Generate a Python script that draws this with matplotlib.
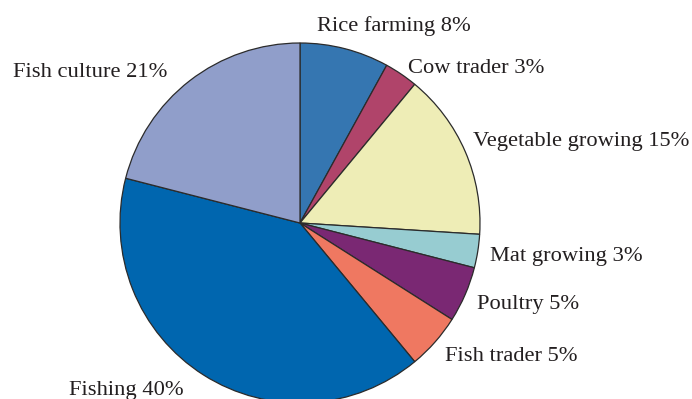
import matplotlib
matplotlib.use("Agg")
import matplotlib.pyplot as plt

# Share of households by livelihood activity (percent)
activities = ["Rice farming", "Cow trader", "Vegetable growing", "Mat growing",
              "Poultry", "Fish trader", "Fishing", "Fish culture"]
shares = [8, 3, 15, 3, 5, 5, 40, 21]
colors = ["#3576B1", "#B0446A", "#EEEDB6", "#97CCD1",
          "#7A2873", "#EF7861", "#0066AF", "#909ECA"]

W, H = 692, 399
fig = plt.figure(figsize=(W / 100, H / 100), dpi=100)
ax = fig.add_axes([0, 0, 1, 1])

ax.pie(shares, colors=colors, startangle=90, counterclock=False,
       radius=180, center=(300, H - 223),
       wedgeprops=dict(edgecolor="#2b2b2b", linewidth=0.9))

ax.set_xlim(0, W)
ax.set_ylim(0, H)
ax.set_aspect("equal")
ax.axis("off")

# label anchor: left edge x and baseline y (measured from the top)
label_pos = {
    "Rice farming": (317, 31),
    "Cow trader": (408, 73),
    "Vegetable growing": (473, 146),
    "Mat growing": (490, 261),
    "Poultry": (477, 309),
    "Fish trader": (445, 361),
    "Fishing": (69, 395),
    "Fish culture": (13, 77),
}
for name, val in zip(activities, shares):
    x, yb = label_pos[name]
    ax.text(x, H - yb, f"{name} {val}%", ha="left", va="baseline",
            fontsize=16.2, family="Liberation Serif", color="#231F20")

fig.savefig("out.png", dpi=100)
